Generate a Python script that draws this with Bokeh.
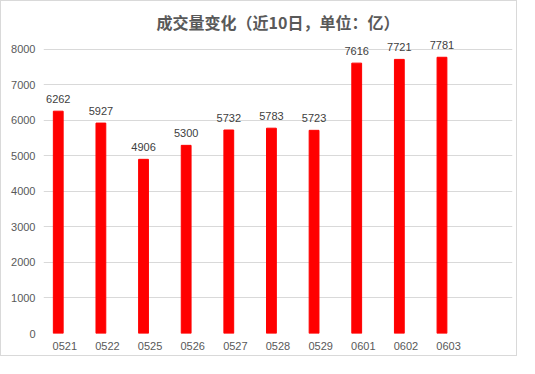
from bokeh.plotting import figure
from bokeh.models import ColumnDataSource, FixedTicker, Range1d
from bokeh.core.properties import value
from bokeh.embed import file_html
from bokeh.resources import INLINE

dates = ["0521", "0522", "0525", "0526", "0527", "0528", "0529", "0601", "0602", "0603"]
volumes = [6262, 5927, 4906, 5300, 5732, 5783, 5723, 7616, 7721, 7781]
y_ticks = [0, 1000, 2000, 3000, 4000, 5000, 6000, 7000, 8000]
title_text = "成交量变化（近10日，单位：亿）"

n_slots = len(dates) + 1
centers = [i + 0.5 for i in range(len(dates))]
bar_x = [c - 0.154 for c in centers]

src = ColumnDataSource(dict(x=bar_x, top=volumes, lbl=[str(v) for v in volumes]))

p = figure(width=517, height=356, output_backend="svg", toolbar_location=None,
           x_range=Range1d(0, n_slots), y_range=Range1d(0, 8366),
           min_border_left=42, min_border_right=6, min_border_top=35, min_border_bottom=24)
p.styles = {"border": "1px solid #d9d9d9"}

p.title.text = title_text
p.title.align = "center"
p.title.text_font = "Noto Sans CJK SC"
p.title.text_font_size = "16px"
p.title.text_font_style = "bold"
p.title.text_color = "#595959"
p.title.standoff = 5

p.vbar(x="x", top="top", width=0.23, bottom=0, source=src, color="#ff0000")
p.text(x="x", y="top", text="lbl", source=src, text_align="center", text_baseline="bottom",
       y_offset=-8, text_font=value("Liberation Sans"), text_font_size="11px", text_color="#404040")

p.xaxis.ticker = FixedTicker(ticks=centers)
p.xaxis.major_label_overrides = {c: d for c, d in zip(centers, dates)}
p.yaxis.ticker = FixedTicker(ticks=y_ticks)
for ax in (p.xaxis, p.yaxis):
    ax.axis_line_color = None
    ax.major_tick_line_color = None
    ax.minor_tick_line_color = None
    ax.major_tick_out = 0
    ax.major_tick_in = 0
    ax.minor_tick_out = 0
    ax.minor_tick_in = 0
    ax.major_label_text_font = "Liberation Sans"
    ax.major_label_text_font_size = "11px"
    ax.major_label_text_color = "#595959"
p.xaxis.major_label_standoff = 8
p.yaxis.major_label_standoff = 8

p.xgrid.grid_line_color = None
p.ygrid.ticker = FixedTicker(ticks=y_ticks)
p.ygrid.grid_line_color = "#d9d9d9"
p.outline_line_color = None
p.background_fill_color = "white"
p.border_fill_color = "white"

open("out.html", "w").write(file_html(p, INLINE))
